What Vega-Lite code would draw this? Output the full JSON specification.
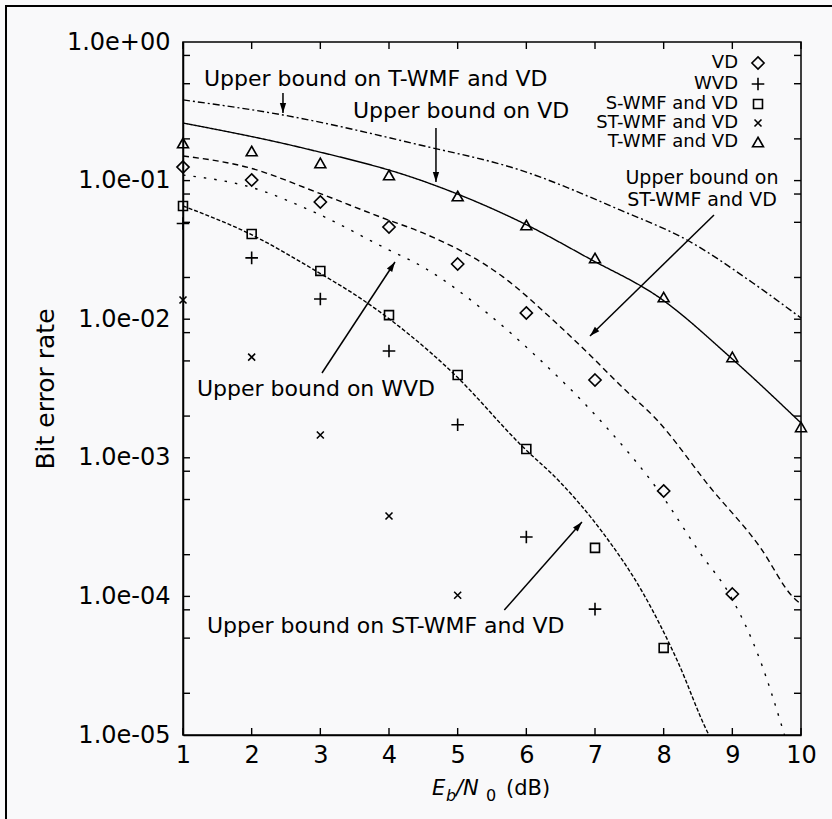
{
  "$schema": "https://vega.github.io/schema/vega-lite/v6.json",
  "width": 618,
  "height": 693,
  "autosize": {"type": "none"},
  "padding": {"left": 183, "top": 42, "right": 31, "bottom": 84},
  "background": "#f9f9fa",
  "config": {
    "view": {"stroke": "black", "strokeWidth": 1.5, "fill": null},
    "font": "DejaVu Sans",
    "axis": {
      "grid": false,
      "domainColor": "black",
      "domainWidth": 1.5,
      "ticks": false,
      "tickSize": 0,
      "labelColor": "black",
      "labelFont": "DejaVu Sans",
      "labelFontSize": 24,
      "titleColor": "black",
      "titleFont": "DejaVu Sans",
      "titleFontWeight": "normal",
      "labelOverlap": false,
      "labelFlush": false
    }
  },
  "datasets": {
    "curves": [
      {"curve": "c1", "x": 1, "ber": 0.382},
      {"curve": "c1", "x": 2.456, "ber": 0.2974},
      {"curve": "c1", "x": 4.451, "ber": 0.1806},
      {"curve": "c1", "x": 5.908, "ber": 0.1192},
      {"curve": "c1", "x": 7.364, "ber": 0.0614},
      {"curve": "c1", "x": 8.34, "ber": 0.03727},
      {"curve": "c1", "x": 9.3, "ber": 0.01825},
      {"curve": "c1", "x": 10, "ber": 0.0102},
      {"curve": "c2", "x": 1, "ber": 0.2603},
      {"curve": "c2", "x": 2.747, "ber": 0.1718},
      {"curve": "c2", "x": 4.451, "ber": 0.101},
      {"curve": "c2", "x": 5.951, "ber": 0.0494},
      {"curve": "c2", "x": 6.927, "ber": 0.0272},
      {"curve": "c2", "x": 7.946, "ber": 0.01422},
      {"curve": "c2", "x": 8.966, "ber": 0.00534},
      {"curve": "c2", "x": 10, "ber": 0.001783},
      {"curve": "c3", "x": 1, "ber": 0.1506},
      {"curve": "c3", "x": 1.976, "ber": 0.1233},
      {"curve": "c3", "x": 2.937, "ber": 0.0828},
      {"curve": "c3", "x": 3.912, "ber": 0.0537},
      {"curve": "c3", "x": 4.495, "ber": 0.0419},
      {"curve": "c3", "x": 5.66, "ber": 0.0202},
      {"curve": "c3", "x": 6.388, "ber": 0.00987},
      {"curve": "c3", "x": 6.97, "ber": 0.00525},
      {"curve": "c3", "x": 7.364, "ber": 0.00335},
      {"curve": "c3", "x": 7.903, "ber": 0.001874},
      {"curve": "c3", "x": 8.674, "ber": 0.000615},
      {"curve": "c3", "x": 9.403, "ber": 0.000227},
      {"curve": "c3", "x": 9.883, "ber": 0.000099},
      {"curve": "c3", "x": 10, "ber": 0.000088},
      {"curve": "c4", "x": 1, "ber": 0.1097},
      {"curve": "c4", "x": 1.976, "ber": 0.0899},
      {"curve": "c4", "x": 2.937, "ber": 0.0584},
      {"curve": "c4", "x": 3.912, "ber": 0.0332},
      {"curve": "c4", "x": 4.495, "ber": 0.0238},
      {"curve": "c4", "x": 5.427, "ber": 0.0111},
      {"curve": "c4", "x": 6.155, "ber": 0.00534},
      {"curve": "c4", "x": 7.116, "ber": 0.00177},
      {"curve": "c4", "x": 7.946, "ber": 0.00056},
      {"curve": "c4", "x": 8.529, "ber": 0.000206},
      {"curve": "c4", "x": 8.966, "ber": 0.000102},
      {"curve": "c4", "x": 9.403, "ber": 0.0000348},
      {"curve": "c4", "x": 9.737, "ber": 0.0000109},
      {"curve": "c4", "x": 9.76, "ber": 0.00001},
      {"curve": "c5", "x": 1, "ber": 0.0656},
      {"curve": "c5", "x": 1.976, "ber": 0.0412},
      {"curve": "c5", "x": 2.937, "ber": 0.02227},
      {"curve": "c5", "x": 3.621, "ber": 0.01376},
      {"curve": "c5", "x": 4.932, "ber": 0.00409},
      {"curve": "c5", "x": 5.951, "ber": 0.001196},
      {"curve": "c5", "x": 6.49, "ber": 0.000669},
      {"curve": "c5", "x": 7.116, "ber": 0.000287},
      {"curve": "c5", "x": 7.699, "ber": 0.0001058},
      {"curve": "c5", "x": 8.194, "ber": 0.0000348},
      {"curve": "c5", "x": 8.645, "ber": 0.00001034},
      {"curve": "c5", "x": 8.66, "ber": 0.00001}
    ],
    "points": [
      {"series": "VD", "x": 1, "ber": 0.1252},
      {"series": "VD", "x": 2, "ber": 0.101},
      {"series": "VD", "x": 3, "ber": 0.0701},
      {"series": "VD", "x": 4, "ber": 0.0463},
      {"series": "VD", "x": 5, "ber": 0.025},
      {"series": "VD", "x": 6, "ber": 0.0111},
      {"series": "VD", "x": 7, "ber": 0.00364},
      {"series": "VD", "x": 8, "ber": 0.000576},
      {"series": "VD", "x": 9, "ber": 0.000104},
      {"series": "WVD", "x": 1, "ber": 0.049},
      {"series": "WVD", "x": 2, "ber": 0.0277},
      {"series": "WVD", "x": 3, "ber": 0.014},
      {"series": "WVD", "x": 4, "ber": 0.0059},
      {"series": "WVD", "x": 5, "ber": 0.00173},
      {"series": "WVD", "x": 6, "ber": 0.000268},
      {"series": "WVD", "x": 7, "ber": 0.000081},
      {"series": "S-WMF and VD", "x": 1, "ber": 0.0656},
      {"series": "S-WMF and VD", "x": 2, "ber": 0.0412},
      {"series": "S-WMF and VD", "x": 3, "ber": 0.0223},
      {"series": "S-WMF and VD", "x": 4, "ber": 0.0107},
      {"series": "S-WMF and VD", "x": 5, "ber": 0.00396},
      {"series": "S-WMF and VD", "x": 6, "ber": 0.001158},
      {"series": "S-WMF and VD", "x": 7, "ber": 0.000224},
      {"series": "S-WMF and VD", "x": 8, "ber": 0.0000425},
      {"series": "ST-WMF and VD", "x": 1, "ber": 0.01376},
      {"series": "ST-WMF and VD", "x": 2, "ber": 0.00533},
      {"series": "ST-WMF and VD", "x": 3, "ber": 0.00146},
      {"series": "ST-WMF and VD", "x": 4, "ber": 0.00038},
      {"series": "ST-WMF and VD", "x": 5, "ber": 0.000102},
      {"series": "T-WMF and VD", "x": 1, "ber": 0.1868},
      {"series": "T-WMF and VD", "x": 2, "ber": 0.1635},
      {"series": "T-WMF and VD", "x": 3, "ber": 0.134},
      {"series": "T-WMF and VD", "x": 4, "ber": 0.1097},
      {"series": "T-WMF and VD", "x": 5, "ber": 0.0774},
      {"series": "T-WMF and VD", "x": 6, "ber": 0.0478},
      {"series": "T-WMF and VD", "x": 7, "ber": 0.02764},
      {"series": "T-WMF and VD", "x": 8, "ber": 0.01445},
      {"series": "T-WMF and VD", "x": 9, "ber": 0.00534},
      {"series": "T-WMF and VD", "x": 10, "ber": 0.00167}
    ],
    "notes": [
      {"text": "Upper bound on T-WMF and VD", "x": 1.306, "ber": 0.4815},
      {"text": "Upper bound on VD", "x": 3.476, "ber": 0.2844},
      {"text": "Upper bound on WVD", "x": 1.204, "ber": 0.00279},
      {"text": "Upper bound on ST-WMF and VD", "x": 1.3495, "ber": 0.0000547}
    ],
    "notes2": [
      {"text": "Upper bound on", "x": 8.558, "ber": 0.0945},
      {"text": "ST-WMF and VD", "x": 8.558, "ber": 0.0656}
    ],
    "arrows": [
      {"x": 2.456, "ber": 0.4285, "x2": 2.456, "ber2": 0.3075, "angle": 180},
      {"x": 4.684, "ber": 0.2396, "x2": 4.684, "ber2": 0.0977, "angle": 180},
      {"x": 8.733, "ber": 0.0565, "x2": 6.927, "ber2": 0.00757, "angle": 225.7},
      {"x": 3.024, "ber": 0.00409, "x2": 4.087, "ber2": 0.02587, "angle": 33.3},
      {"x": 5.679, "ber": 0.0000798, "x2": 6.81, "ber2": 0.000344, "angle": 41.4}
    ],
    "tickseg": [
      {"x": 1, "ber": 0.00001, "x2": 1, "ber2": 0.000011233},
      {"x": 2, "ber": 0.00001, "x2": 2, "ber2": 0.000011233},
      {"x": 3, "ber": 0.00001, "x2": 3, "ber2": 0.000011233},
      {"x": 4, "ber": 0.00001, "x2": 4, "ber2": 0.000011233},
      {"x": 5, "ber": 0.00001, "x2": 5, "ber2": 0.000011233},
      {"x": 6, "ber": 0.00001, "x2": 6, "ber2": 0.000011233},
      {"x": 7, "ber": 0.00001, "x2": 7, "ber2": 0.000011233},
      {"x": 8, "ber": 0.00001, "x2": 8, "ber2": 0.000011233},
      {"x": 9, "ber": 0.00001, "x2": 9, "ber2": 0.000011233},
      {"x": 10, "ber": 0.00001, "x2": 10, "ber2": 0.000011233},
      {"x": 1, "ber": 1, "x2": 1, "ber2": 0.8903},
      {"x": 2, "ber": 1, "x2": 2, "ber2": 0.8903},
      {"x": 3, "ber": 1, "x2": 3, "ber2": 0.8903},
      {"x": 4, "ber": 1, "x2": 4, "ber2": 0.8903},
      {"x": 5, "ber": 1, "x2": 5, "ber2": 0.8903},
      {"x": 6, "ber": 1, "x2": 6, "ber2": 0.8903},
      {"x": 7, "ber": 1, "x2": 7, "ber2": 0.8903},
      {"x": 8, "ber": 1, "x2": 8, "ber2": 0.8903},
      {"x": 9, "ber": 1, "x2": 9, "ber2": 0.8903},
      {"x": 10, "ber": 1, "x2": 10, "ber2": 0.8903},
      {"x": 1, "ber": 0.8, "x2": 1.1019, "ber2": 0.8},
      {"x": 1, "ber": 0.5, "x2": 1.1019, "ber2": 0.5},
      {"x": 1, "ber": 0.2, "x2": 1.1019, "ber2": 0.2},
      {"x": 1, "ber": 0.1, "x2": 1.1019, "ber2": 0.1},
      {"x": 1, "ber": 0.08, "x2": 1.1019, "ber2": 0.08},
      {"x": 1, "ber": 0.05, "x2": 1.1019, "ber2": 0.05},
      {"x": 1, "ber": 0.02, "x2": 1.1019, "ber2": 0.02},
      {"x": 1, "ber": 0.01, "x2": 1.1019, "ber2": 0.01},
      {"x": 1, "ber": 0.008, "x2": 1.1019, "ber2": 0.008},
      {"x": 1, "ber": 0.005, "x2": 1.1019, "ber2": 0.005},
      {"x": 1, "ber": 0.002, "x2": 1.1019, "ber2": 0.002},
      {"x": 1, "ber": 0.001, "x2": 1.1019, "ber2": 0.001},
      {"x": 1, "ber": 0.0008, "x2": 1.1019, "ber2": 0.0008},
      {"x": 1, "ber": 0.0005, "x2": 1.1019, "ber2": 0.0005},
      {"x": 1, "ber": 0.0002, "x2": 1.1019, "ber2": 0.0002},
      {"x": 1, "ber": 0.0001, "x2": 1.1019, "ber2": 0.0001},
      {"x": 1, "ber": 0.00008, "x2": 1.1019, "ber2": 0.00008},
      {"x": 1, "ber": 0.00005, "x2": 1.1019, "ber2": 0.00005},
      {"x": 1, "ber": 0.00002, "x2": 1.1019, "ber2": 0.00002},
      {"x": 10, "ber": 0.8, "x2": 9.898, "ber2": 0.8},
      {"x": 10, "ber": 0.5, "x2": 9.898, "ber2": 0.5},
      {"x": 10, "ber": 0.2, "x2": 9.898, "ber2": 0.2},
      {"x": 10, "ber": 0.1, "x2": 9.898, "ber2": 0.1},
      {"x": 10, "ber": 0.08, "x2": 9.898, "ber2": 0.08},
      {"x": 10, "ber": 0.05, "x2": 9.898, "ber2": 0.05},
      {"x": 10, "ber": 0.02, "x2": 9.898, "ber2": 0.02},
      {"x": 10, "ber": 0.01, "x2": 9.898, "ber2": 0.01},
      {"x": 10, "ber": 0.008, "x2": 9.898, "ber2": 0.008},
      {"x": 10, "ber": 0.005, "x2": 9.898, "ber2": 0.005},
      {"x": 10, "ber": 0.002, "x2": 9.898, "ber2": 0.002},
      {"x": 10, "ber": 0.001, "x2": 9.898, "ber2": 0.001},
      {"x": 10, "ber": 0.0008, "x2": 9.898, "ber2": 0.0008},
      {"x": 10, "ber": 0.0005, "x2": 9.898, "ber2": 0.0005},
      {"x": 10, "ber": 0.0002, "x2": 9.898, "ber2": 0.0002},
      {"x": 10, "ber": 0.0001, "x2": 9.898, "ber2": 0.0001},
      {"x": 10, "ber": 0.00008, "x2": 9.898, "ber2": 0.00008},
      {"x": 10, "ber": 0.00005, "x2": 9.898, "ber2": 0.00005},
      {"x": 10, "ber": 0.00002, "x2": 9.898, "ber2": 0.00002}
    ],
    "xt": [
      {"t": "E", "x": 4.626},
      {"t": "b", "x": 4.83},
      {"t": "/N", "x": 4.976},
      {"t": "0", "x": 5.412},
      {"t": "(dB)", "x": 5.704}
    ]
  },
  "layer": [
    {
      "data": {"values": [{}]},
      "mark": {"type": "rect", "fillOpacity": 0, "stroke": "black", "strokeWidth": 2},
      "encoding": {
        "x": {"datum": -1.5776, "type": "quantitative", "scale": {"domain": [1, 10], "nice": false, "zero": false}, "axis": null},
        "x2": {"datum": 10.567},
        "y": {"datum": 1.819, "type": "quantitative", "scale": {"type": "log", "domain": [0.00001, 1], "nice": false}, "axis": null},
        "y2": {"datum": 0.00000206}
      }
    },
    {
      "data": {"name": "curves"},
      "mark": {"type": "line", "interpolate": "monotone", "color": "black", "strokeWidth": 1.4},
      "encoding": {
        "x": {"field": "x", "type": "quantitative", "scale": {"domain": [1, 10], "nice": false, "zero": false},
              "axis": {"orient": "bottom", "values": [1, 2, 3, 4, 5, 6, 7, 8, 9, 10], "format": "d", "labelPadding": 8, "title": null}},
        "y": {"field": "ber", "type": "quantitative", "scale": {"type": "log", "domain": [0.00001, 1], "nice": false},
              "axis": {"orient": "left", "title": "Bit error rate", "titleFontSize": 25, "titlePadding": 8, "labelPadding": 13,
                       "values": [1, 0.1, 0.01, 0.001, 0.0001, 0.00001],
                       "labelExpr": "datum.value > 0.5 ? '1.0e+00' : '1.0e-0' + (-round(log(datum.value)/LN10))"}},
        "strokeDash": {"field": "curve", "type": "nominal",
                       "scale": {"domain": ["c1", "c2", "c3", "c4", "c5"], "range": [[7, 3, 2, 3], [1, 0], [6, 4], [2.5, 8], [4, 2]]},
                       "legend": null}
      }
    },
    {
      "data": {"name": "points"},
      "mark": {"type": "point", "filled": false, "color": "black", "strokeWidth": 1.6, "size": 196, "opacity": 1},
      "encoding": {
        "x": {"field": "x", "type": "quantitative", "scale": {"domain": [1, 10], "nice": false, "zero": false}, "axis": null},
        "y": {"field": "ber", "type": "quantitative", "scale": {"type": "log", "domain": [0.00001, 1], "nice": false}, "axis": null},
        "shape": {"field": "series", "type": "nominal",
                  "scale": {"domain": ["VD", "WVD", "S-WMF and VD", "ST-WMF and VD", "T-WMF and VD"],
                            "range": ["M0,-0.87L0.87,0L0,0.87L-0.87,0Z", "M-0.9,0H0.9M0,-0.9V0.9", "M-0.64,-0.64H0.64V0.64H-0.64Z", "M-0.5,-0.5L0.5,0.5M-0.5,0.5L0.5,-0.5", "M0,-0.68L0.78,0.68L-0.78,0.68Z"]},
                  "legend": {"orient": "none", "legendX": 566, "legendY": 12, "title": null, "padding": 0, "rowPadding": 1,
                             "labelFont": "DejaVu Sans", "labelFontSize": 18, "labelColor": "black", "labelAlign": "right", "labelOffset": -29, "labelLimit": 400,
                             "symbolSize": 196, "symbolStrokeWidth": 1.6, "symbolStrokeColor": "black", "symbolFillColor": "transparent"}}
      }
    },
    {
      "data": {"name": "notes"},
      "mark": {"type": "text", "align": "left", "baseline": "alphabetic", "font": "DejaVu Sans", "fontSize": 22, "color": "black"},
      "encoding": {
        "x": {"field": "x", "type": "quantitative", "scale": {"domain": [1, 10], "nice": false, "zero": false}, "axis": null},
        "y": {"field": "ber", "type": "quantitative", "scale": {"type": "log", "domain": [0.00001, 1], "nice": false}, "axis": null},
        "text": {"field": "text"}
      }
    },
    {
      "data": {"name": "notes2"},
      "mark": {"type": "text", "align": "center", "baseline": "alphabetic", "font": "DejaVu Sans", "fontSize": 19, "color": "black"},
      "encoding": {
        "x": {"field": "x", "type": "quantitative", "scale": {"domain": [1, 10], "nice": false, "zero": false}, "axis": null},
        "y": {"field": "ber", "type": "quantitative", "scale": {"type": "log", "domain": [0.00001, 1], "nice": false}, "axis": null},
        "text": {"field": "text"}
      }
    },
    {
      "data": {"name": "arrows"},
      "mark": {"type": "rule", "color": "black", "strokeWidth": 1.5},
      "encoding": {
        "x": {"field": "x", "type": "quantitative", "scale": {"domain": [1, 10], "nice": false, "zero": false}, "axis": null},
        "y": {"field": "ber", "type": "quantitative", "scale": {"type": "log", "domain": [0.00001, 1], "nice": false}, "axis": null},
        "x2": {"field": "x2"},
        "y2": {"field": "ber2"}
      }
    },
    {
      "data": {"name": "tickseg"},
      "mark": {"type": "rule", "color": "black", "strokeWidth": 1.4},
      "encoding": {
        "x": {"field": "x", "type": "quantitative", "scale": {"domain": [1, 10], "nice": false, "zero": false}, "axis": null},
        "y": {"field": "ber", "type": "quantitative", "scale": {"type": "log", "domain": [0.00001, 1], "nice": false}, "axis": null},
        "x2": {"field": "x2"},
        "y2": {"field": "ber2"}
      }
    },
    {
      "data": {"name": "arrows"},
      "mark": {"type": "point", "shape": "M0,0L-0.35,1.1L0.35,1.1Z", "filled": true, "color": "black", "size": 324, "opacity": 1, "strokeWidth": 0},
      "encoding": {
        "x": {"field": "x2", "type": "quantitative", "scale": {"domain": [1, 10], "nice": false, "zero": false}, "axis": null},
        "y": {"field": "ber2", "type": "quantitative", "scale": {"type": "log", "domain": [0.00001, 1], "nice": false}, "axis": null},
        "angle": {"field": "angle", "type": "quantitative", "scale": null}
      }
    },
    {
      "data": {"name": "xt"},
      "transform": [{"filter": "datum.t == 'E' || datum.t == '/N'"}],
      "mark": {"type": "text", "align": "left", "baseline": "alphabetic", "font": "DejaVu Sans", "fontStyle": "italic", "fontSize": 21, "color": "black", "dy": 60},
      "encoding": {
        "x": {"field": "x", "type": "quantitative", "scale": {"domain": [1, 10], "nice": false, "zero": false}, "axis": null},
        "y": {"datum": 0.00001, "type": "quantitative", "scale": {"type": "log", "domain": [0.00001, 1], "nice": false}, "axis": null},
        "text": {"field": "t"}
      }
    },
    {
      "data": {"name": "xt"},
      "transform": [{"filter": "datum.t == 'b'"}],
      "mark": {"type": "text", "align": "left", "baseline": "alphabetic", "font": "DejaVu Sans", "fontStyle": "italic", "fontSize": 16, "color": "black", "dy": 66},
      "encoding": {
        "x": {"field": "x", "type": "quantitative", "scale": {"domain": [1, 10], "nice": false, "zero": false}, "axis": null},
        "y": {"datum": 0.00001, "type": "quantitative", "scale": {"type": "log", "domain": [0.00001, 1], "nice": false}, "axis": null},
        "text": {"field": "t"}
      }
    },
    {
      "data": {"name": "xt"},
      "transform": [{"filter": "datum.t == '0'"}],
      "mark": {"type": "text", "align": "left", "baseline": "alphabetic", "font": "DejaVu Sans", "fontSize": 16, "color": "black", "dy": 66},
      "encoding": {
        "x": {"field": "x", "type": "quantitative", "scale": {"domain": [1, 10], "nice": false, "zero": false}, "axis": null},
        "y": {"datum": 0.00001, "type": "quantitative", "scale": {"type": "log", "domain": [0.00001, 1], "nice": false}, "axis": null},
        "text": {"field": "t"}
      }
    },
    {
      "data": {"name": "xt"},
      "transform": [{"filter": "datum.t == '(dB)'"}],
      "mark": {"type": "text", "align": "left", "baseline": "alphabetic", "font": "DejaVu Sans", "fontSize": 21, "color": "black", "dy": 60},
      "encoding": {
        "x": {"field": "x", "type": "quantitative", "scale": {"domain": [1, 10], "nice": false, "zero": false}, "axis": null},
        "y": {"datum": 0.00001, "type": "quantitative", "scale": {"type": "log", "domain": [0.00001, 1], "nice": false}, "axis": null},
        "text": {"field": "t"}
      }
    }
  ],
  "resolve": {"axis": {"x": "independent", "y": "independent"}}
}
